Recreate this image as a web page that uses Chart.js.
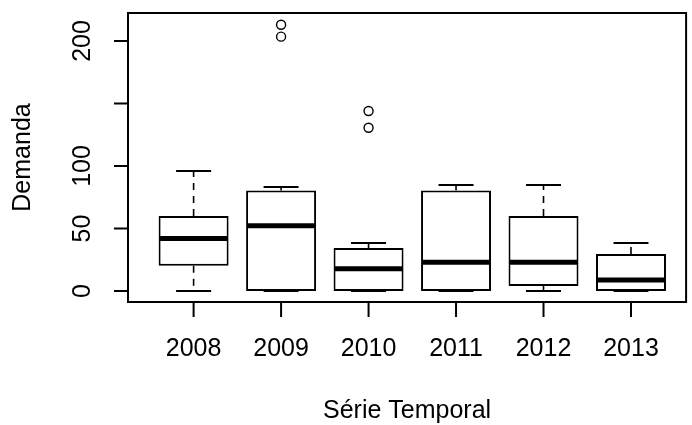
<!DOCTYPE html>
<html>
<head>
<meta charset="utf-8">
<script src="https://cdn.jsdelivr.net/npm/chart.js@4/dist/chart.umd.min.js"></script>
<style>
  html, body { margin: 0; padding: 0; background: #fff; }
  #wrap { width: 692px; height: 425px; }
</style>
</head>
<body>
<div id="wrap"><canvas id="boxChart"></canvas></div>
<script>
// values
const years = ['2008', '2009', '2010', '2011', '2012', '2013'];
const lowerWhisker = [0, 0, 0, 0, 0, 0];
const q1 = [20.3, 0, 0, 0, 4, 0];
const median = [42, 52.3, 17.8, 23, 23, 8.8];
const q3 = [60, 80.5, 34.4, 80.5, 60, 29.6];
const upperWhisker = [96, 83.2, 38.4, 84.8, 84.8, 38.4];
const outliers = [[], [203.5, 213], [130.6, 144], [], [], []];

const yTicks = [0, 50, 100, 150, 200];
const yTickLabels = ['0', '50', '100', '', '200'];

const FONT = '25px "Liberation Sans", Arial, sans-serif';

const boxData = years.map((y, i) => ({ x: i + 1, y: [q1[i], q3[i]] }));
const outlierData = [];
outliers.forEach((arr, i) => arr.forEach(v => outlierData.push({ x: i + 1, y: v })));

// whiskers, medians, frame and the R style axes
const boxplotExtras = {
    id: 'boxplotExtras',
    afterDatasetsDraw(chart) {
        const { ctx, chartArea: area, scales: { x, y } } = chart;
        const halfBox = (x.getPixelForValue(1.4) - x.getPixelForValue(1));
        const halfCap = halfBox / 2;

        ctx.save();
        ctx.strokeStyle = '#000';
        ctx.lineCap = 'butt';

        years.forEach((yr, i) => {
            const cx = x.getPixelForValue(i + 1);

            // dashed whiskers
            ctx.lineWidth = 1.6;
            ctx.setLineDash([7, 6]);
            ctx.beginPath();
            ctx.moveTo(cx, y.getPixelForValue(q3[i]));
            ctx.lineTo(cx, y.getPixelForValue(upperWhisker[i]));
            if (q1[i] > lowerWhisker[i]) {
                ctx.moveTo(cx, y.getPixelForValue(q1[i]));
                ctx.lineTo(cx, y.getPixelForValue(lowerWhisker[i]));
            }
            ctx.stroke();
            ctx.setLineDash([]);

            // staples
            ctx.lineWidth = 2;
            ctx.beginPath();
            [upperWhisker[i], lowerWhisker[i]].forEach(v => {
                const py = y.getPixelForValue(v);
                ctx.moveTo(cx - halfCap, py);
                ctx.lineTo(cx + halfCap, py);
            });
            ctx.stroke();

            // median
            ctx.lineWidth = 5;
            ctx.beginPath();
            const my = y.getPixelForValue(median[i]);
            ctx.moveTo(cx - halfBox + 1, my);
            ctx.lineTo(cx + halfBox - 1, my);
            ctx.stroke();
        });

        // frame
        ctx.lineWidth = 2;
        ctx.strokeRect(area.left, area.top, area.right - area.left, area.bottom - area.top);

        // y axis ticks + rotated labels
        ctx.fillStyle = '#000';
        ctx.font = FONT;
        yTicks.forEach((t, i) => {
            const py = y.getPixelForValue(t);
            ctx.beginPath();
            ctx.moveTo(area.left, py);
            ctx.lineTo(area.left - 14, py);
            ctx.stroke();
            if (yTickLabels[i]) {
                ctx.save();
                ctx.translate(83, py);
                ctx.rotate(-Math.PI / 2);
                ctx.textAlign = 'center';
                ctx.textBaseline = 'middle';
                ctx.fillText(yTickLabels[i], 0, 0);
                ctx.restore();
            }
        });

        // x axis ticks + labels
        ctx.textAlign = 'center';
        ctx.textBaseline = 'middle';
        years.forEach((yr, i) => {
            const px = x.getPixelForValue(i + 1);
            ctx.beginPath();
            ctx.moveTo(px, area.bottom);
            ctx.lineTo(px, area.bottom + 15);
            ctx.stroke();
            ctx.fillText(yr, px, 349);
        });

        // axis titles
        ctx.fillText('Série Temporal', (area.left + area.right) / 2, 411);
        ctx.save();
        ctx.translate(23, (area.top + area.bottom) / 2);
        ctx.rotate(-Math.PI / 2);
        ctx.fillText('Demanda', 0, 0);
        ctx.restore();

        ctx.restore();
    }
};

new Chart(document.getElementById('boxChart'), {
    data: {
        datasets: [
            {
                type: 'bar',
                data: boxData,
                backgroundColor: '#fff',
                borderColor: '#000',
                borderWidth: 2,
                borderSkipped: false,
                categoryPercentage: 0.8,
                barPercentage: 1.0
            },
            {
                type: 'scatter',
                data: outlierData,
                pointStyle: 'circle',
                pointRadius: 4.5,
                borderColor: '#000',
                borderWidth: 1.4,
                backgroundColor: 'rgba(0,0,0,0)'
            }
        ]
    },
    options: {
        responsive: true,
        maintainAspectRatio: false,
        animation: false,
        layout: { padding: { left: 128, top: 13, right: 1, bottom: 123 } },
        scales: {
            x: {
                type: 'linear', min: 0.25, max: 6.63, offset: false, display: false,
                ticks: { stepSize: 1, includeBounds: false }
            },
            y: { type: 'linear', min: -8.8, max: 222.4, display: false }
        },
        plugins: {
            legend: { display: false },
            tooltip: { enabled: false }
        }
    },
    plugins: [boxplotExtras]
});
</script>
</body>
</html>
